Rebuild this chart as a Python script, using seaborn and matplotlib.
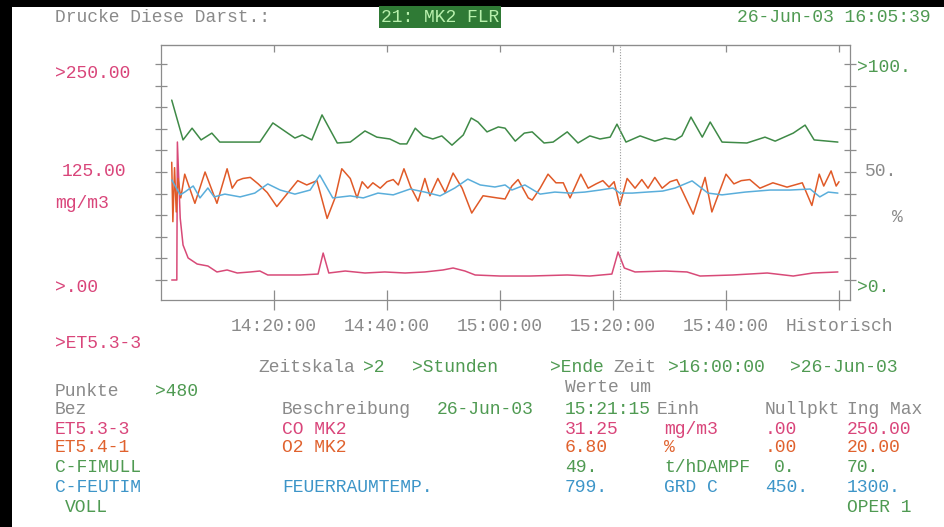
import numpy as np
import pandas as pd
import matplotlib
matplotlib.use("Agg")
import matplotlib.pyplot as plt
import seaborn as sns
from matplotlib.patches import Rectangle

# ---------------- data (minutes after 14:00:00, engineering units) ----------------
co_t = [1.9, 2.8, 2.9, 3.4, 3.9, 4.8, 6.4, 8.3, 9.9, 11.7, 13.5, 15.8, 17.5, 18.9, 24.6, 27.8,
        28.7, 29.7, 32.6, 36.1, 39.6, 43.2, 46.7, 49.9, 51.7, 53.8, 55.6, 60.0, 65.3, 71.9,
        75.9, 79.8, 80.9, 82.0, 83.9, 89.2, 93.1, 95.4, 101.2, 107.3, 111.9, 115.4, 119.8]
co_v = [0, 0, 159.7, 71.7, 40.5, 25.5, 18.5, 16.2, 9.3, 11.6, 8.1, 9.3, 10.4, 5.8, 5.8, 6.9,
        31.2, 8.1, 10.4, 8.1, 9.3, 8.1, 9.3, 11.6, 13.9, 10.4, 5.8, 4.6, 4.6, 5.8,
        4.6, 6.9, 32.4, 13.9, 9.3, 10.4, 9.3, 4.6, 5.8, 8.1, 4.6, 8.1, 9.3]

o2_t = [1.9, 2.1, 2.4, 2.7, 3.0, 3.5, 4.2, 6.0, 7.8, 9.9, 11.7, 12.6, 13.5, 14.5, 15.8, 17.2,
        18.8, 20.5, 22.5, 24.2, 25.8, 27.6, 29.4, 30.8, 32.0, 33.5, 34.7, 35.6, 36.6, 37.5,
        38.8, 40.0, 41.1, 42.0, 43.0, 44.2, 45.5, 46.7, 47.6, 49.0, 50.3, 51.7, 53.3, 55.0,
        57.0, 59.5, 60.9, 62.1, 63.2, 65.0, 65.7, 67.1, 68.5, 69.9, 71.2, 72.4, 74.3, 75.6,
        77.0, 78.2, 79.3, 80.2, 81.2, 82.5, 83.9, 85.1, 86.2, 87.4, 88.7, 90.1, 91.3, 92.4,
        94.2, 96.3, 97.5, 100.0, 101.4, 102.7, 104.2, 106.0, 108.3, 110.8, 113.5, 115.2,
        116.5, 117.3, 118.6, 119.5, 120.0]
o2_v = [10.9, 5.4, 10.4, 6.3, 9.4, 7.6, 9.8, 7.1, 10.0, 7.1, 10.3, 8.5, 9.2, 9.4, 9.5, 8.9,
        8.1, 6.8, 8.1, 9.2, 8.8, 9.2, 5.7, 7.6, 10.3, 9.4, 7.6, 9.1, 8.5, 9.0,
        8.5, 9.1, 9.3, 8.8, 10.3, 8.6, 7.3, 9.4, 7.8, 9.4, 8.1, 9.9, 8.5, 6.2,
        7.8, 7.6, 7.5, 8.7, 9.3, 7.6, 7.4, 8.5, 9.8, 9.0, 9.0, 7.6, 9.8, 8.5,
        8.9, 9.2, 8.6, 9.1, 6.9, 9.4, 8.5, 9.3, 8.5, 9.5, 8.5, 9.1, 9.3, 8.1,
        6.1, 9.5, 6.3, 9.8, 8.9, 9.2, 9.3, 8.5, 9.0, 8.6, 9.0, 6.9,
        9.8, 8.7, 10.1, 8.7, 9.1]

steam_t = [1.9, 3.9, 5.5, 7.1, 9.0, 10.4, 17.5, 19.8, 23.7, 25.0, 26.7, 28.5, 31.2, 33.5,
           36.1, 38.2, 40.5, 42.3, 43.5, 45.0, 46.4, 48.1, 49.7, 51.5, 53.5, 54.9, 56.1, 57.7,
           59.7, 60.9, 62.7, 64.3, 65.7, 67.8, 69.4, 71.9, 73.8, 75.9, 77.7, 79.5, 80.7, 82.3,
           84.8, 87.4, 89.2, 91.0, 92.2, 93.8, 95.8, 97.2, 99.3, 103.7, 106.9, 108.7, 111.9,
           114.0, 115.6, 119.8]
steam_v = [58.3, 45.4, 49.2, 45.4, 47.6, 44.7, 44.7, 50.9, 46.0, 47.0, 45.4, 53.5, 44.4, 44.7,
           48.3, 46.3, 45.7, 44.1, 44.1, 49.2, 46.7, 45.7, 46.7, 43.7, 47.0, 52.5, 51.2, 48.0,
           49.6, 49.2, 45.0, 47.6, 48.0, 44.4, 44.7, 48.0, 44.4, 46.7, 45.7, 46.3, 50.5, 44.7,
           46.7, 45.0, 46.0, 45.4, 46.7, 52.8, 46.3, 51.2, 44.7, 44.4, 46.3, 45.0, 47.6,
           50.2, 45.4, 44.7]

temp_t = [1.9, 3.4, 4.2, 5.7, 6.9, 8.3, 9.4, 11.3, 14.0, 16.6, 18.9, 21.1, 23.7, 26.4, 28.1,
          30.4, 33.5, 35.8, 38.4, 41.1, 44.1, 46.7, 49.4, 52.0, 54.3, 56.5, 59.1, 60.9, 62.1,
          64.4, 67.1, 69.7, 72.4, 75.0, 77.7, 80.0, 81.2, 83.4, 86.0, 88.8, 91.0, 94.0, 96.8,
          99.3, 103.4, 107.8, 111.3, 114.9, 116.6, 118.1, 119.8]
temp_v = [844, 785, 796, 820, 773, 812, 777, 788, 777, 792, 828, 804, 788, 804, 863,
          773, 781, 773, 792, 785, 808, 796, 781, 812, 847, 824, 816, 824, 804,
          824, 788, 796, 792, 796, 804, 812, 792, 792, 796, 800, 812, 840, 792,
          785, 796, 804, 804, 808, 777, 796, 792]

tag_names = ["ET5.3-3", "ET5.4-1", "C-FIMULL", "C-FEUTIM"]
descriptions = ["CO MK2", "O2 MK2", "", "FEUERRAUMTEMP."]
cursor_values = ["31.25", "6.80", "49.", "799."]
units = ["mg/m3", "%", "t/hDAMPF", "GRD C"]
zero_points = [0.0, 0.0, 0.0, 450.0]
eng_max = [250.0, 20.0, 70.0, 1300.0]
zero_labels = [".00", ".00", "0.", "450."]
max_labels = ["250.00", "20.00", "70.", "1300."]
x_tick_minutes = [20, 40, 60, 80, 100, 120]
x_tick_labels = ["14:20:00", "14:40:00", "15:00:00", "15:20:00", "15:40:00", "Historisch"]
cursor_minute = 81.25

# ---------------- build long table (percent of span) ----------------
series_t = [co_t, o2_t, steam_t, temp_t]
series_v = [co_v, o2_v, steam_v, temp_v]
frames = []
for name, t, v, z, m in zip(tag_names, series_t, series_v, zero_points, eng_max):
    v = np.asarray(v, dtype=float)
    frames.append(pd.DataFrame({"tag": name, "minute": t, "pct": (v - z) / (m - z) * 100.0}))
df = pd.concat(frames, ignore_index=True)

# ---------------- style ----------------
sns.set_style("white")
MONO = ["Liberation Mono", "DejaVu Sans Mono"]
plt.rcParams["font.family"] = MONO

W, H = 944, 527
FS = 13
GREY = "#8a8a8a"
PINK = "#d9457a"
ORANGE = "#e0622e"
GREEN = "#4f9a52"
BLUE = "#3d95c8"
line_colors = {"ET5.3-3": "#d84a78", "ET5.4-1": "#e05a28",
               "C-FIMULL": "#3f8a47", "C-FEUTIM": "#5aaedb"}
text_colors = [PINK, ORANGE, GREEN, BLUE]

fig = plt.figure(figsize=(W / 100, H / 100), dpi=100)
fig.patch.set_facecolor("white")

x0, x1, y0, y1 = 161, 850, 45, 300
ax = fig.add_axes([x0 / W, 1 - y1 / H, (x1 - x0) / W, (y1 - y0) / H])

sns.lineplot(data=df, x="minute", y="pct", hue="tag", palette=line_colors,
             estimator=None, sort=False, legend=False, linewidth=1.1, ax=ax)

ax.set_xlim(0, (x1 - x0) / 5.65)
ax.set_ylim(-20 / 2.16, (280 - 45) / 2.16)
ax.set_xlabel("")
ax.set_ylabel("")

for s in ax.spines.values():
    s.set_color("#8c8c8c")
    s.set_linewidth(0.9)

ax.set_yticks(np.arange(0, 101, 10))
ax.tick_params(axis="y", which="major", direction="inout", length=8, width=0.9,
               color="#8c8c8c", left=True, right=True, labelleft=False, labelright=False)
ax.set_xticks(x_tick_minutes)
ax.set_xticklabels(x_tick_labels)
ax.tick_params(axis="x", which="major", direction="inout", length=14, width=0.9,
               color="#8c8c8c", bottom=True, top=False, pad=6, labelsize=FS, labelcolor=GREY)

sec = ax.secondary_xaxis("top")
sec.set_xticks(x_tick_minutes)
sec.tick_params(direction="in", length=5, width=0.9, color="#8c8c8c", labeltop=False)
sec.spines["top"].set_color("#8c8c8c")

ax.axvline(cursor_minute, color="#9a9a9a", lw=0.8, ls=(0, (1, 1.5)))


def T(x, y, s, c, **kw):
    fig.text(x / W, 1 - y / H, s, color=c, ha="left", va="center", fontsize=FS, **kw)


# header
T(55, 17, "Drucke Diese Darst.:", GREY)
T(381, 17, "21: MK2 FLR", "#b8f0ac",
  bbox=dict(boxstyle="square,pad=0.12", fc="#2f7a35", ec="none"))
T(737, 17, "26-Jun-03 16:05:39", GREEN)

# axis labels left / right
T(55, 73, ">250.00", PINK)
T(62, 172, "125.00", PINK)
T(55, 203, "mg/m3", PINK)
T(55, 287, ">.00", PINK)
T(857, 67, ">100.", GREEN)
T(865, 172, "50.", GREY)
T(892, 217, "%", GREY)
T(857, 287, ">0.", GREEN)

# lower panel
T(55, 343, ">ET5.3-3", PINK)
T(258, 368, "Zeitskala", GREY)
T(363, 368, ">2", GREEN)
T(412, 368, ">Stunden", GREEN)
T(550, 368, ">Ende", GREEN)
T(613, 368, "Zeit", GREY)
T(668, 368, ">16:00:00", GREEN)
T(790, 368, ">26-Jun-03", GREEN)
T(55, 391, "Punkte", GREY)
T(155, 391, ">480", GREEN)
T(565, 388, "Werte um", GREY)

hy = 409
T(55, hy, "Bez", GREY)
T(282, hy, "Beschreibung", GREY)
T(437, hy, "26-Jun-03", GREEN)
T(565, hy, "15:21:15", GREEN)
T(657, hy, "Einh", GREY)
T(765, hy, "Nullpkt", GREY)
T(847, hy, "Ing Max", GREY)

row_y = [429, 448, 468, 487]
for i in range(4):
    c = text_colors[i]
    yy = row_y[i]
    T(55, yy, tag_names[i], c)
    if descriptions[i]:
        T(282, yy, descriptions[i], c)
    T(565, yy, cursor_values[i], c)
    T(664, yy, units[i], c)
    T(765 if zero_labels[i] != "0." else 774, yy, zero_labels[i], c)
    T(847, yy, max_labels[i], c)
T(65, 507, "VOLL", GREEN)
T(847, 507, "OPER 1", GREEN)

# black frame bands (left and top)
fig.add_artist(Rectangle((0, 0), 12 / W, 1, transform=fig.transFigure,
                         facecolor="black", edgecolor="none"))
fig.add_artist(Rectangle((0, 1 - 7 / H), 1, 7 / H, transform=fig.transFigure,
                         facecolor="black", edgecolor="none"))

fig.savefig("out.png", dpi=100)
